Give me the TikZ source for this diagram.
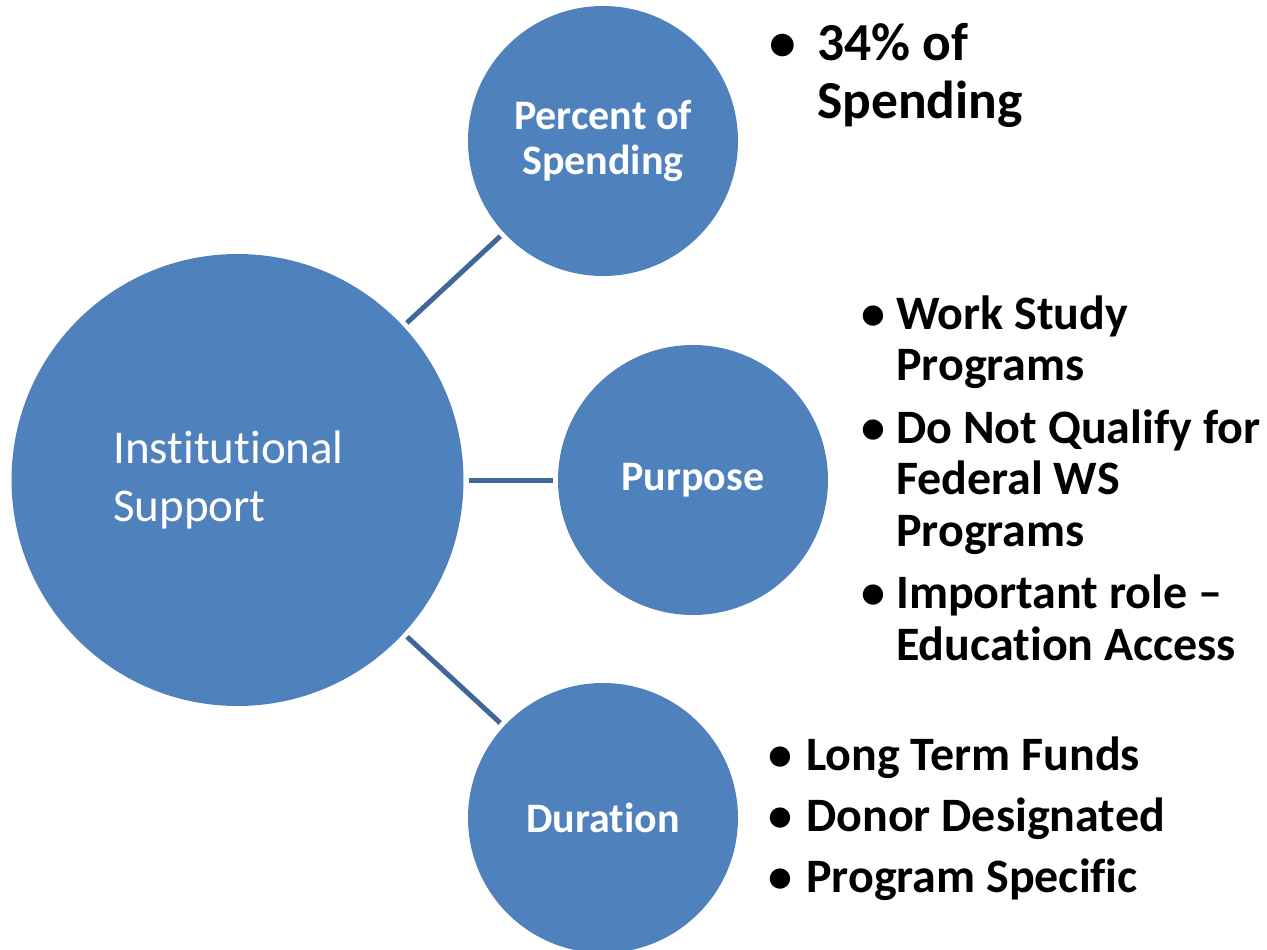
\documentclass[tikz,border=0pt]{standalone}
\usepackage{fontspec}
\setmainfont{Carlito}[Ligatures={NoCommon}]
\definecolor{cfill}{HTML}{4F81BD}
\definecolor{cline}{HTML}{3F6797}
\begin{document}
\begin{tikzpicture}[x=1pt,y=-1pt,
  bubble/.style={circle, fill=cfill, draw=none, inner sep=0pt, outer sep=5pt},
  link/.style={draw=cline, line width=5pt},
  lbl/.style={text=white, font=\bfseries\fontsize{42}{45}\selectfont, align=center},
  maintxt/.style={text=white, font=\fontsize{47}{58}\selectfont, align=left, inner sep=0pt, anchor=base west},
  blist/.style={inner sep=0pt, anchor=base west}]
\useasboundingbox (0,0) rectangle (1267,950);
\node[bubble, minimum size=452pt] (main) at (237.5,480) {};
\node[bubble, minimum size=270pt, lbl] (pct) at (603,141) {Percent of\\Spending};
\node[bubble, minimum size=270pt, lbl] (pur) at (693,480) {Purpose};
\node[bubble, minimum size=270pt, lbl] (dur) at (603,818) {Duration};
\node[maintxt] (maintext) at (113,521) {Institutional\\Support};
\draw[link] (main) -- (pct);
\draw[link] (main) -- (pur);
\draw[link] (main) -- (dur);
\node[blist, font=\bfseries\fontsize{53.5}{58}\selectfont] (l1) at (769,61)
  {\begin{tabular}[t]{@{}l@{}l@{}}\makebox[48pt][l]{\textbullet} & 34\% of\\ & Spending\end{tabular}};
\node[blist, font=\bfseries\fontsize{48}{51.5}\selectfont] (l2) at (861,329)
  {\begin{tabular}[t]{@{}l@{}l@{}}\makebox[35pt][l]{\textbullet} & Work Study\\ & Programs\\[11pt]
   \makebox[35pt][l]{\textbullet} & Do Not Qualify for\\ & Federal WS\\ & Programs\\[11pt]
   \makebox[35pt][l]{\textbullet} & Important role --\\ & Education Access\end{tabular}};
\node[blist, font=\bfseries\fontsize{48}{51.5}\selectfont] (l3) at (768,770)
  {\begin{tabular}[t]{@{}l@{}l@{}}\makebox[38pt][l]{\textbullet} & Long Term Funds\\[9.5pt]
   \makebox[38pt][l]{\textbullet} & Donor Designated\\[9.5pt]
   \makebox[38pt][l]{\textbullet} & Program Specific\end{tabular}};
\end{tikzpicture}
\end{document}
